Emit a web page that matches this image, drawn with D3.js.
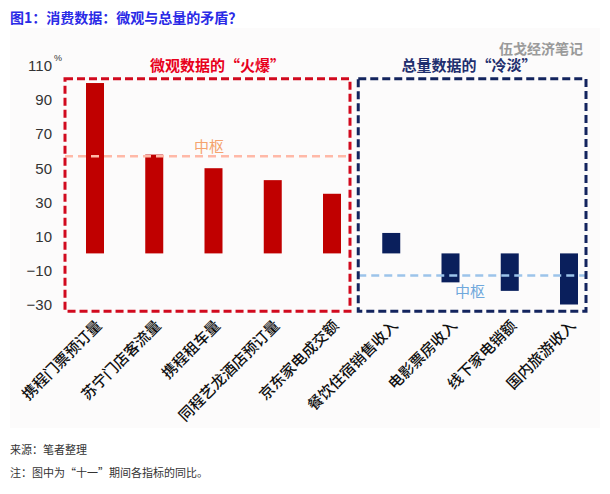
<!DOCTYPE html>
<html><head><meta charset="utf-8">
<script src="https://cdn.jsdelivr.net/npm/d3@7"></script>
<style>
body{margin:0;background:#fff;font-family:"Noto Sans CJK SC","Noto Sans",sans-serif;}
svg{display:block;}
</style></head>
<body>
<svg id="c" width="610" height="494"></svg>
<script>
const categories = ["携程门票预订量","苏宁门店客流量","携程租车量","同程艺龙酒店预订量","京东家电成交额","餐饮住宿销售收入","电影票房收入","线下家电销额","国内旅游收入"];
const values = [100, 58, 50, 43, 35, 12, -17, -22, -30];
const groups = ["micro","micro","micro","micro","micro","macro","macro","macro","macro"];
const centerMicro = 57;
const centerMacro = -13;
const yTicks = [110, 90, 70, 50, 30, 10, -10, -30];
const title = "图1：消费数据：微观与总量的矛盾？";
const groupTitles = ["微观数据的“火爆”","总量数据的“冷淡”"];
const centerLabel = "中枢";
const watermark = "伍戈经济笔记";
const source = "来源：笔者整理";
const note = "注：图中为“十一”期间各指标的同比。";

const svg = d3.select("#c");
const font = '"Noto Sans CJK SC","Noto Sans",sans-serif';

svg.append("rect").attr("x",10).attr("y",28).attr("width",590).attr("height",400).attr("fill","#fcfbfb");

const x = d3.scalePoint().domain(categories).range([95, 569]);
const y = d3.scaleLinear().domain([-30, 110]).range([304.5, 66]);
const bw = 18;

// title
svg.append("text").attr("x",10).attr("y",23).text(title)
  .attr("font-size",14).attr("font-weight","bold").attr("fill","#2a2ae6").attr("font-family",font);

svg.append("text").attr("x",583).attr("y",54).attr("text-anchor","end").text(watermark)
  .attr("font-size",14).attr("font-weight","bold").attr("fill","#9a9a9a").attr("font-family",font);

// y axis
const yAxis = svg.append("g").attr("transform","translate(52,0)")
  .call(d3.axisLeft(y).tickValues(yTicks).tickSize(0).tickPadding(0));
yAxis.select(".domain").remove();
yAxis.selectAll("text").attr("font-size",15).attr("fill","#333").attr("font-family","Arial, 'Liberation Sans', sans-serif");
svg.append("text").attr("x",54).attr("y",61).text("%").attr("font-size",9).attr("fill","#333").attr("font-family","Arial, sans-serif");

// boxes
const boxTop = y(102.5), boxBot = y(-34);
const microX0 = x(categories[0]) - 30, microX1 = x(categories[4]) + 18;
const macroX0 = x(categories[5]) - 33, macroX1 = x(categories[8]) + 17;

// bars
svg.append("g").selectAll("rect").data(categories).join("rect")
  .attr("x", d => x(d) - bw/2)
  .attr("y", (d,i) => y(Math.max(0, values[i])))
  .attr("width", bw)
  .attr("height", (d,i) => Math.abs(y(values[i]) - y(0)))
  .attr("fill", (d,i) => groups[i] === "micro" ? "#c00000" : "#0a1f5c");

// center lines
svg.append("line").attr("x1",microX0).attr("x2",microX1).attr("y1",y(centerMicro)).attr("y2",y(centerMicro))
  .attr("stroke","#ffb9a8").attr("stroke-width",2.5).attr("stroke-dasharray","8,5");
svg.append("line").attr("x1",macroX0).attr("x2",macroX1).attr("y1",y(centerMacro)).attr("y2",y(centerMacro))
  .attr("stroke","#9cc4ea").attr("stroke-width",2.5).attr("stroke-dasharray","8,5");
svg.append("text").attr("x",209).attr("y",y(centerMicro)-4).attr("text-anchor","middle").text(centerLabel)
  .attr("font-size",15).attr("fill","#f5a36e").attr("font-family",font);
svg.append("text").attr("x",470).attr("y",y(centerMacro)+21).attr("text-anchor","middle").text(centerLabel)
  .attr("font-size",15).attr("fill","#6fa8dc").attr("font-family",font);

svg.append("rect").attr("x",microX0).attr("y",boxTop).attr("width",microX1-microX0).attr("height",boxBot-boxTop)
  .attr("fill","none").attr("stroke","#d10a1e").attr("stroke-width",3).attr("stroke-dasharray","8,4");
svg.append("rect").attr("x",macroX0).attr("y",boxTop).attr("width",macroX1-macroX0).attr("height",boxBot-boxTop)
  .attr("fill","none").attr("stroke","#13245e").attr("stroke-width",3).attr("stroke-dasharray","8,4");

svg.append("text").attr("x",(microX0+microX1)/2 + 10).attr("y",boxTop-8).attr("text-anchor","middle").text(groupTitles[0])
  .attr("font-size",15).attr("font-weight","bold").attr("fill","#e8001c").attr("font-family",font);
svg.append("text").attr("x",(macroX0+macroX1)/2 - 3).attr("y",boxTop-8).attr("text-anchor","middle").text(groupTitles[1])
  .attr("font-size",15).attr("font-weight","bold").attr("fill","#1f2f6e").attr("font-family",font);

// x labels
svg.append("g").selectAll("text").data(categories).join("text")
  .attr("transform", d => `translate(${x(d)+4},${323}) rotate(-45)`)
  .attr("text-anchor","end").attr("dy","0.35em").text(d => d)
  .attr("font-size",15).attr("font-weight","500").attr("fill","#111").attr("font-family",font);

// footer
svg.append("text").attr("x",10).attr("y",454).text(source).attr("font-size",11).attr("fill","#333").attr("font-family",font);
svg.append("text").attr("x",10).attr("y",477).text(note).attr("font-size",11).attr("fill","#333").attr("font-family",font);
</script>
</body></html>
